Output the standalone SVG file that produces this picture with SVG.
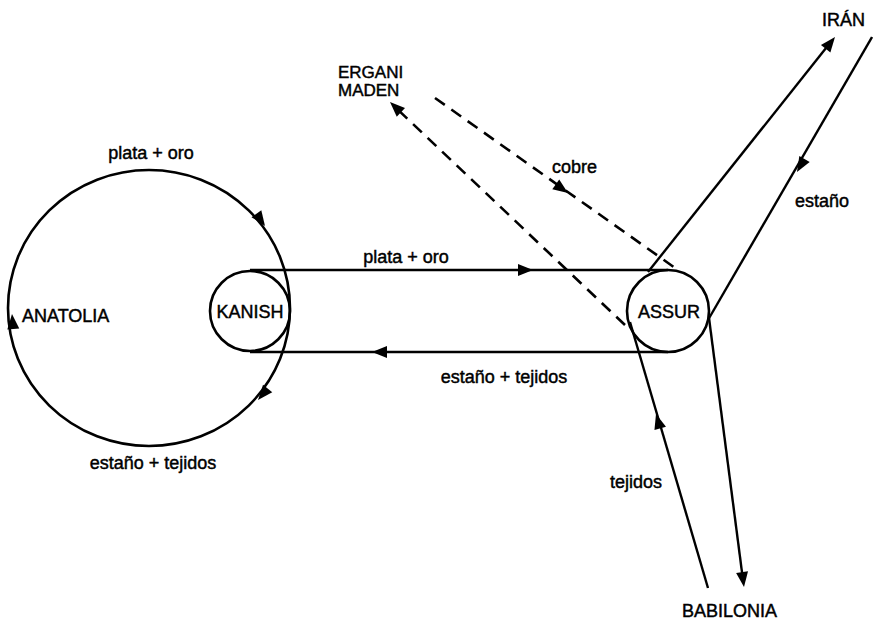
<svg xmlns="http://www.w3.org/2000/svg" xmlns:xlink="http://www.w3.org/1999/xlink" width="873" height="621" viewBox="0 0 873 621">
<style>
text{font-family:"Liberation Sans",Arial,Helvetica,sans-serif;font-size:18px;fill:#000;stroke:#000;stroke-width:0.45}
.n{fill:none;stroke:#000;stroke-width:2.6}
.l{fill:none;stroke:#000;stroke-width:2.4}
.d{fill:none;stroke:#000;stroke-width:2.6;stroke-dasharray:12 8}
.m{text-anchor:middle}
.s{font-size:17px}
</style>
<defs>
<path id="ah" d="M0,0 L-15,-6 L-15,6 Z" fill="#000"/>
</defs>
<rect width="873" height="621" fill="#fff"/>
<g id="anatolia">
<ellipse class="n" cx="149" cy="308" rx="141" ry="138"/>
<text x="22" y="322">ANATOLIA</text>
</g>
<g id="kanish">
<circle class="n" cx="250" cy="311" r="40"/>
<text class="m" x="250" y="318">KANISH</text>
</g>
<g id="assur">
<circle class="n" cx="668" cy="311" r="41"/>
<text class="m" x="669" y="318">ASSUR</text>
</g>
<g id="iran"><text x="822" y="26">IRÁN</text></g>
<g id="ergani"><text class="s" x="338" y="78">ERGANI</text><text class="s" x="338" y="96">MADEN</text></g>
<g id="babilonia"><text x="682" y="617">BABILONIA</text></g>
<g id="connectors">
<line class="l" x1="250" y1="270" x2="668" y2="270"/>
<line class="l" x1="250" y1="352" x2="668" y2="352"/>
<use xlink:href="#ah" transform="translate(533,270)"/>
<use xlink:href="#ah" transform="translate(372,352) rotate(180)"/>
<use xlink:href="#ah" transform="translate(265,226) rotate(55)"/>
<use xlink:href="#ah" transform="translate(258,400) rotate(130)"/>
<use xlink:href="#ah" transform="translate(12,314) rotate(-95)"/>
<line class="l" x1="648" y1="272" x2="830" y2="43"/>
<use xlink:href="#ah" transform="translate(835,37) rotate(-51.5)"/>
<line class="l" x1="872" y1="37" x2="708" y2="320"/>
<use xlink:href="#ah" transform="translate(797,172) rotate(120)"/>
<line class="l" x1="709" y1="318" x2="743" y2="580"/>
<use xlink:href="#ah" transform="translate(744,587) rotate(82.6)"/>
<line class="l" x1="708" y1="588" x2="630" y2="322"/>
<use xlink:href="#ah" transform="translate(656,414) rotate(-106.3)"/>
<line class="d" x1="625" y1="325" x2="394" y2="106"/>
<use xlink:href="#ah" transform="translate(390,102) rotate(-136.5)"/>
<line class="d" x1="435" y1="98" x2="678" y2="270"/>
<use xlink:href="#ah" transform="translate(568,193) rotate(35.3)"/>
<text class="m" x="151" y="159">plata + oro</text>
<text class="m" x="153" y="469">estaño + tejidos</text>
<text class="m" x="406" y="263">plata + oro</text>
<text class="m" x="504" y="383">estaño + tejidos</text>
<text x="552" y="173">cobre</text>
<text x="795" y="207">estaño</text>
<text x="610" y="488">tejidos</text>
</g>
</svg>
